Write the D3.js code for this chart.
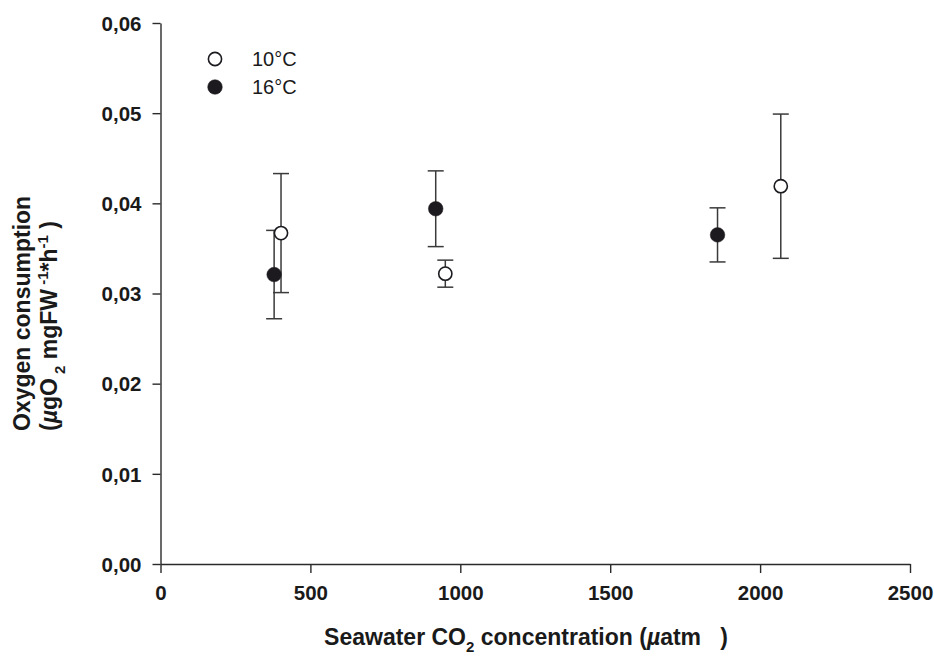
<!DOCTYPE html>
<html>
<head>
<meta charset="utf-8">
<script src="https://cdn.jsdelivr.net/npm/d3@7"></script>
<style>
  body { margin: 0; background: #fff; }
  svg { display: block; font-family: "Liberation Sans", Arial, sans-serif; }
</style>
</head>
<body>
<svg id="chart"></svg>
<script>
const w = 934, h = 658;

// CO2 (µatm) and oxygen consumption, mean and error
const co2_10 = [402, 950, 2069];
const o2_10 = [0.0367, 0.0322, 0.0419];
const err_10 = [0.0066, 0.0015, 0.0080];

const co2_16 = [379, 918, 1858];
const o2_16 = [0.0321, 0.0394, 0.0365];
const err_16 = [0.0049, 0.0042, 0.0030];

const xTicks = [0, 500, 1000, 1500, 2000, 2500];
const yTicks = [0, 0.01, 0.02, 0.03, 0.04, 0.05, 0.06];
const legendLabels = ['10°C', '16°C'];

var svg = d3.select('#chart')
  .attr('width', w)
  .attr('height', h);

svg.append('rect').attr('width', w).attr('height', h).attr('fill', '#fff');

var x = d3.scaleLinear().domain([0, 2500]).range([160.5, 910]);
var y = d3.scaleLinear().domain([0, 0.06]).range([564, 23]);

// axes
var xAxis = svg.append('g')
  .attr('transform', 'translate(0,' + y(0) + ')')
  .call(d3.axisBottom(x).tickValues(xTicks).tickSize(9).tickSizeOuter(0).tickPadding(12)
    .tickFormat(d3.format('d')));

var yAxis = svg.append('g')
  .attr('transform', 'translate(' + x(0) + ',0)')
  .call(d3.axisLeft(y).tickValues(yTicks).tickSize(8).tickSizeOuter(0).tickPadding(11)
    .tickFormat(function(d){ return d3.format('.2f')(d).replace('.', ','); }));

[xAxis, yAxis].forEach(function(a){
  a.selectAll('path, line').attr('stroke', '#2a2a2a').attr('stroke-width', 1.4);
  a.selectAll('text')
    .attr('fill', '#1a1a1a')
    .style('font-size', '20.5px')
    .style('font-weight', 'bold')
    .style('font-family', '"Liberation Sans", Arial, sans-serif');
});
yAxis.selectAll('text').attr('dy', '0.35em');

// error bars + points
function drawSeries(xs, ys, es, filled) {
  var g = svg.append('g');
  var d = xs.map(function(v, i){ return {x: v, y: ys[i], e: es[i]}; });
  g.selectAll('line.bar').data(d).enter().append('line')
    .attr('x1', function(d){ return x(d.x); })
    .attr('x2', function(d){ return x(d.x); })
    .attr('y1', function(d){ return y(d.y + d.e); })
    .attr('y2', function(d){ return y(d.y - d.e); })
    .attr('stroke', '#3a3a3a').attr('stroke-width', 1.5);
  [1, -1].forEach(function(s){
    g.selectAll('line.cap' + s).data(d).enter().append('line')
      .attr('x1', function(d){ return x(d.x) - 8; })
      .attr('x2', function(d){ return x(d.x) + 8; })
      .attr('y1', function(d){ return y(d.y + s * d.e); })
      .attr('y2', function(d){ return y(d.y + s * d.e); })
      .attr('stroke', '#3a3a3a').attr('stroke-width', 1.5);
  });
  return function() {
    svg.append('g').selectAll('circle').data(d).enter().append('circle')
      .attr('cx', function(d){ return x(d.x); })
      .attr('cy', function(d){ return y(d.y); })
      .attr('r', filled ? 7.3 : 6.6)
      .attr('fill', filled ? '#1c1a1f' : '#fff')
      .attr('stroke', '#1c1a1f')
      .attr('stroke-width', filled ? 0.5 : 1.6);
  };
}
var pts16 = drawSeries(co2_16, o2_16, err_16, true);
var pts10 = drawSeries(co2_10, o2_10, err_10, false);
pts16();
pts10();

// legend
var legend = svg.selectAll('g.legend')
  .data(legendLabels)
  .enter()
  .append('g')
  .attr('class', 'legend')
  .attr('transform', function(d, i){ return 'translate(215,' + (59 + i * 28) + ')'; });

legend.append('circle')
  .attr('r', function(d, i){ return i ? 7.3 : 6.6; })
  .attr('fill', function(d, i){ return i ? '#1c1a1f' : '#fff'; })
  .attr('stroke', '#1c1a1f')
  .attr('stroke-width', function(d, i){ return i ? 0.5 : 1.6; });

legend.append('text')
  .attr('x', 37)
  .attr('dy', '0.36em')
  .style('font-size', '20px')
  .attr('fill', '#1a1a1a')
  .text(function(d){ return d; });

// x axis title
var xt = svg.append('text')
  .attr('x', 526)
  .attr('y', 645)
  .attr('text-anchor', 'middle')
  .style('font-size', '23px')
  .style('font-weight', 'bold')
  .attr('fill', '#1a1a1a');
xt.append('tspan').text('Seawater CO');
xt.append('tspan').attr('dy', 7).style('font-size', '15px').text('2');
xt.append('tspan').attr('dy', -7).text(' concentration (');
xt.append('tspan').style('font-style', 'italic').text('µ');
xt.append('tspan').text('atm\u00a0\u00a0\u00a0)');

// y axis title (two lines)
var yt = svg.append('g')
  .attr('transform', 'translate(0,431) rotate(-90)')
  .style('font-size', '23px')
  .style('font-weight', 'bold')
  .attr('fill', '#1a1a1a');
yt.append('text')
  .attr('x', 0).attr('y', 30)
  .text('Oxygen consumption');
var l2 = yt.append('text')
  .attr('x', 0).attr('y', 57);
l2.append('tspan').text('(');
l2.append('tspan').style('font-style', 'italic').text('µ');
l2.append('tspan').text('gO');
l2.append('tspan').attr('dy', 8).style('font-size', '15px').text(' 2');
l2.append('tspan').attr('dy', -8).text(' mgFW');
l2.append('tspan').attr('dy', -9).style('font-size', '15px').text(' -1');
l2.append('tspan').attr('dy', 9).text('*h');
l2.append('tspan').attr('dy', -9).style('font-size', '15px').text('-1');
l2.append('tspan').attr('dy', 9).text(' )');
</script>
</body>
</html>
